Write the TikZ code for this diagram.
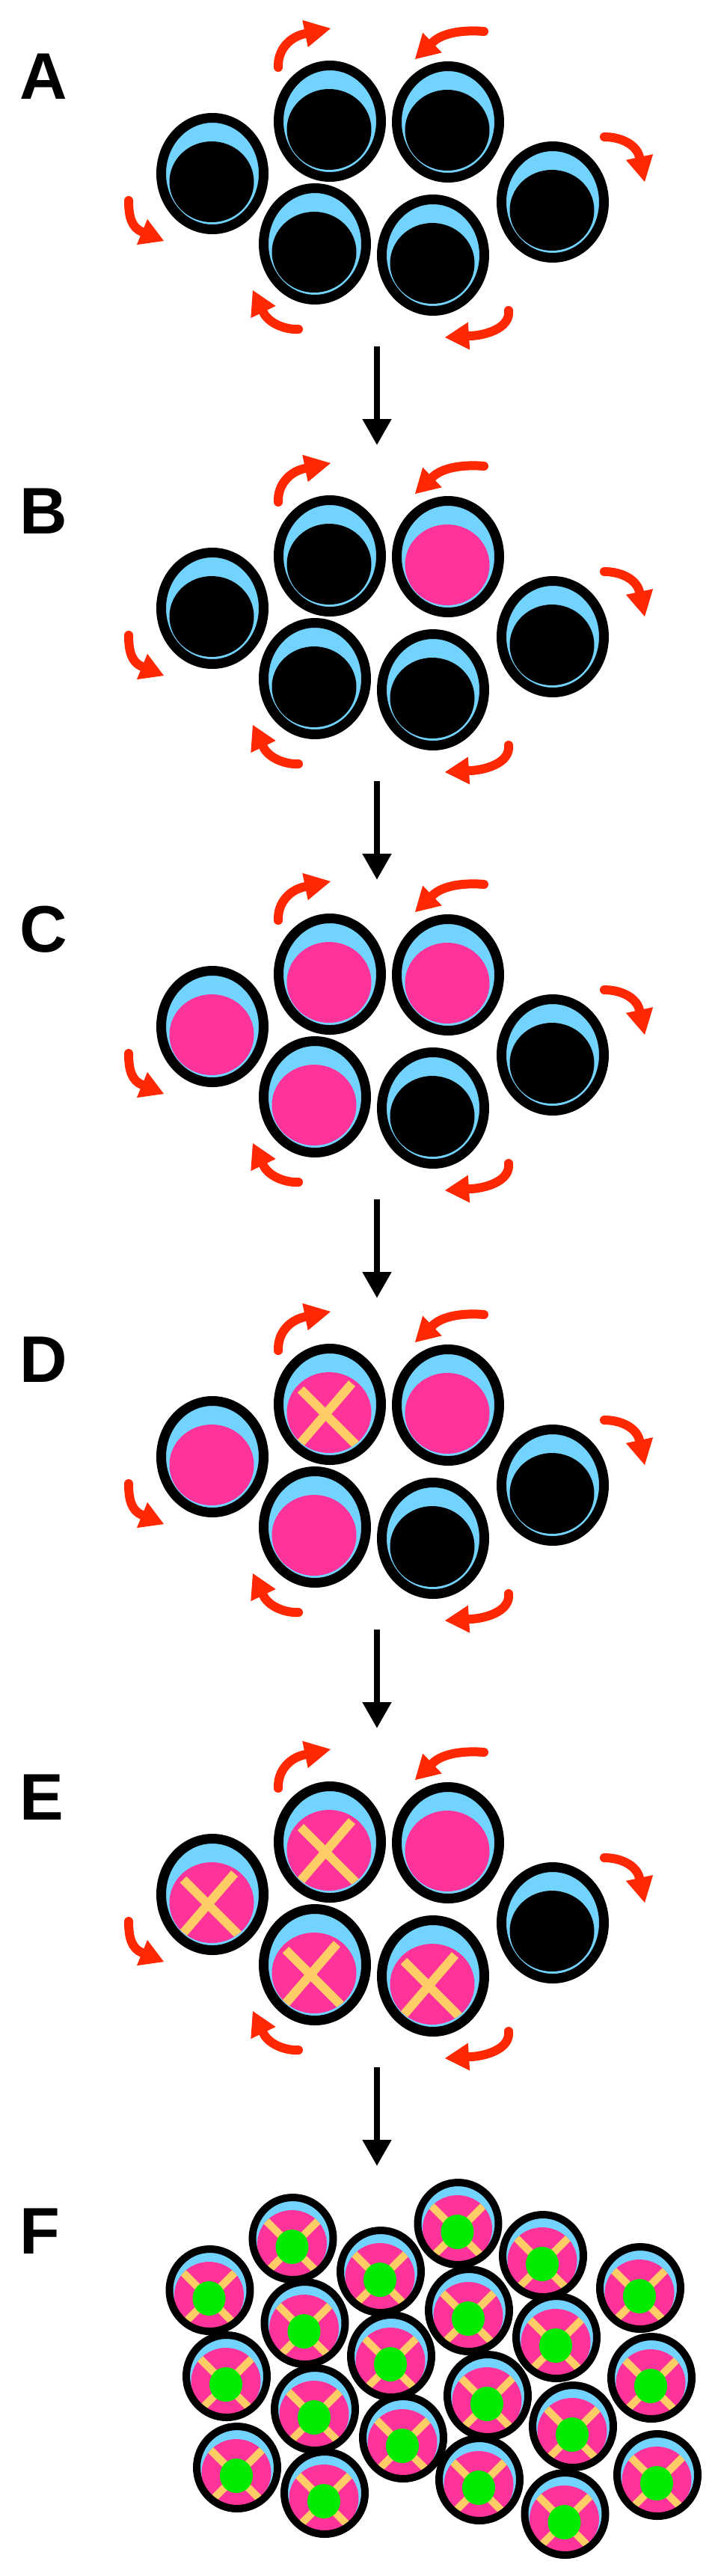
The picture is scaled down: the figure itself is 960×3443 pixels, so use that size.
\documentclass[tikz,border=0pt]{standalone}
\usepackage{fontspec}
\setmainfont{Liberation Sans}
\usetikzlibrary{arrows.meta,calc}
\definecolor{cellblue}{RGB}{115,211,255}
\definecolor{nucpink}{RGB}{255,51,153}
\definecolor{arrowred}{RGB}{255,40,0}
\definecolor{xyellow}{RGB}{255,204,102}
\definecolor{nucgreen}{RGB}{0,235,0}
\tikzset{
  ring/.style={draw=black,line width=13pt},
  fring/.style={draw=black,line width=10pt},
  xbar/.style={draw=xyellow,line width=12pt},
  fbar/.style={draw=xyellow,line width=10pt},
  redstroke/.style={draw=arrowred,line width=12pt,line cap=round},
  flowarrow/.style={draw=black,line width=8pt,-{Triangle[length=35pt,width=37pt]}},
  lbl/.style={anchor=base west,inner sep=0pt,font=\fontsize{88}{100}\selectfont\bfseries},
  pics/cellnuc/.style={code={
    \fill[cellblue] (0,0) ellipse [x radius=68.5,y radius=74.5];
    \fill[#1] (-1,11) ellipse [x radius=56.5,y radius=54];
    \draw[ring] (0,0) ellipse [x radius=68.5,y radius=74.5];
  }},
  pics/cellx/.style={code={
    \fill[cellblue] (0,0) ellipse [x radius=68.5,y radius=74.5];
    \fill[nucpink] (-1,11) ellipse [x radius=56.5,y radius=54];
    \begin{scope}
      \clip (-1,11) ellipse [x radius=56.5,y radius=54];
      \draw[xbar] (-39,-20) -- (54,73);
      \draw[xbar] (29.5,-28) -- (-53,68);
    \end{scope}
    \draw[ring] (0,0) ellipse [x radius=68.5,y radius=74.5];
  }},
  pics/cellf/.style={code={
    \fill[cellblue] (0,0) ellipse [x radius=54,y radius=55];
    \fill[nucpink] (-1,7) ellipse [x radius=46.5,y radius=45];
    \begin{scope}
      \clip (-1,7) ellipse [x radius=46.5,y radius=45];
      \draw[fbar] (-51,-39) -- (49,61);
      \draw[fbar] (49,-39) -- (-51,61);
    \end{scope}
    \fill[nucgreen] (-1,11) ellipse [x radius=22,y radius=23];
    \draw[fring] (0,0) ellipse [x radius=54,y radius=55];
  }},
}
% curved red arrow: tail, control 1, control 2, base of head, tip
\newcommand{\redarc}[5]{%
  \draw[redstroke] #1 .. controls #2 and #3 .. #4;
  \fill[arrowred] #5 -- ($#4!18.5pt!90:#5$) -- ($#4!18.5pt!-90:#5$) -- cycle;}
\newcommand{\cellpanel}[8]{%
  \begin{scope}[shift={(0,#1)}]
    \node[lbl] (lab#2) at (26,132) {#2};
    \pic at (284,232) {#3};
    \pic at (441,162) {#4};
    \pic at (599,163) {#5};
    \pic at (739,270) {#6};
    \pic at (421,326) {#7};
    \pic at (579,341) {#8};
    \redarc{(372,90)}{(371,66)}{(388,49)}{(408,45)}{(442,38)}
    \redarc{(647,42)}{(625,40)}{(593,42)}{(578,57)}{(555,79)}
    \redarc{(808,183)}{(830,183)}{(851,193)}{(855,210)}{(862,243)}
    \redarc{(172,268)}{(172,290)}{(176,304)}{(190,310)}{(219,322)}
    \redarc{(399,440)}{(380,441)}{(358,431)}{(352,417)}{(338,388)}
    \redarc{(680,415)}{(683,440)}{(645,449)}{(627,449)}{(595,451)}
    \coordinate (down#2a) at (504,463);
    \coordinate (down#2b) at (504,595);
  \end{scope}}
\begin{document}
\begin{tikzpicture}[x=1pt,y=-1pt]
\useasboundingbox (0,0) rectangle (960,3443);
\fill[white] (0,0) rectangle (960,3443);
\cellpanel{0}{A}{cellnuc=black}{cellnuc=black}{cellnuc=black}{cellnuc=black}{cellnuc=black}{cellnuc=black}
\cellpanel{581}{B}{cellnuc=black}{cellnuc=black}{cellnuc=nucpink}{cellnuc=black}{cellnuc=black}{cellnuc=black}
\cellpanel{1140}{C}{cellnuc=nucpink}{cellnuc=nucpink}{cellnuc=nucpink}{cellnuc=black}{cellnuc=nucpink}{cellnuc=black}
\cellpanel{1715}{D}{cellnuc=nucpink}{cellx}{cellnuc=nucpink}{cellnuc=black}{cellnuc=nucpink}{cellnuc=black}
\cellpanel{2300}{E}{cellx}{cellx}{cellnuc=nucpink}{cellnuc=black}{cellx}{cellx}
\draw[flowarrow] (downAa) -- (downAb);
\draw[flowarrow] (downBa) -- (downBb);
\draw[flowarrow] (downCa) -- (downCb);
\draw[flowarrow] (downDa) -- (downDb);
\draw[flowarrow] (downEa) -- (downEb);
\node[lbl] (labF) at (26,3012) {F};
\foreach \px/\py in {391.5/2992, 612.5/2972, 280.5/3061, 509/3036, 726/3015, 856/3058,
  407.5/3105, 627/3088, 744/3124, 303/3176, 523/3149, 871/3178,
  421/3220, 652/3202, 766/3243, 317/3298, 539/3258, 879/3308,
  434/3332, 641/3314, 755.5/3360}
  \pic at (\px,\py) {cellf};
\end{tikzpicture}
\end{document}
